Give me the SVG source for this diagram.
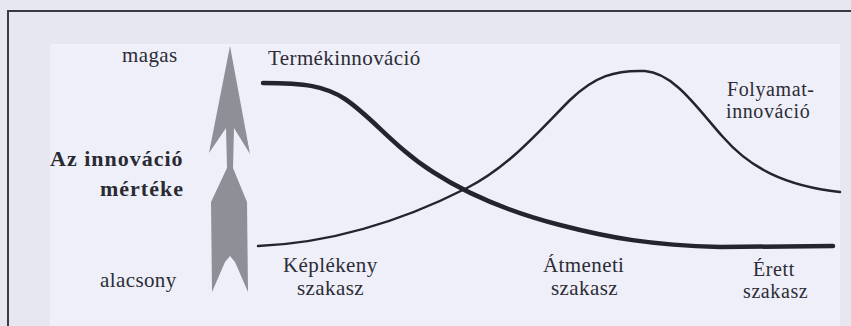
<svg xmlns="http://www.w3.org/2000/svg" width="851" height="326" viewBox="0 0 851 326">
<style>
text{font-family:'Liberation Serif','DejaVu Serif',serif}
.t{font-size:21px;letter-spacing:0.4px;fill:#2c2c36}
.s{font-size:20px;letter-spacing:0.6px}
.b{font-size:22px;font-weight:bold;letter-spacing:1px;fill:#2a2a33}
.frame{fill:none;stroke:#3a3a44;stroke-width:2}
.curve{fill:none;stroke:#24242c;stroke-linecap:round}
</style>
<rect x="0" y="0" width="851" height="326" fill="#e6e7f1"/>
<rect x="50" y="45" width="790" height="281" fill="#eeeff8"/>
<line x1="50" y1="45" x2="840" y2="45" stroke="#f8f8fd" stroke-width="1"/>
<path class="frame" d="M8,326 L8,11 L851,11"/>
<g id="axis-arrow">
<polygon points="230,46 250,154 234,128 233,168 247,202 248,292 235,262 230,256 225,262 212,292 211,202 227,168 226,128 209,153" fill="#8f8f98"/>
</g>
<g id="axis-labels">
<text class="t" x="122" y="62">magas</text>
<text class="b" x="50" y="166">Az innováció</text>
<text class="b" x="100" y="196">mértéke</text>
<text class="t" x="100" y="287">alacsony</text>
</g>
<g id="connectors">
<path id="termekinnovacio-curve" class="curve" stroke-width="4.5" d="M263,83 C305,83 325,86 345,99 C372,117 395,148 433,172 C470,196 510,212 560,225 C610,238 650,245 720,247 L833,246"/>
<path id="folyamatinnovacio-curve" class="curve" stroke-width="2.5" d="M258,246 C330,243 400,222 467,188 C510,166 540,130 570,100 C595,76 615,70 645,71 C675,73 700,112 723,137 C750,168 785,186 840,192"/>
</g>
<g id="termekinnovacio">
<text class="t" x="268" y="65">Termékinnováció</text>
</g>
<g id="folyamatinnovacio">
<text class="t s" x="727" y="96">Folyamat-</text>
<text class="t s" x="726" y="118">innováció</text>
</g>
<g id="keplekeny-szakasz">
<text class="t" x="283" y="272">Képlékeny</text>
<text class="t" x="297" y="295">szakasz</text>
</g>
<g id="atmeneti-szakasz">
<text class="t" x="543" y="272">Átmeneti</text>
<text class="t" x="551" y="295">szakasz</text>
</g>
<g id="erett-szakasz">
<text class="t s" x="753" y="276">Érett</text>
<text class="t s" x="743" y="298">szakasz</text>
</g>
</svg>
